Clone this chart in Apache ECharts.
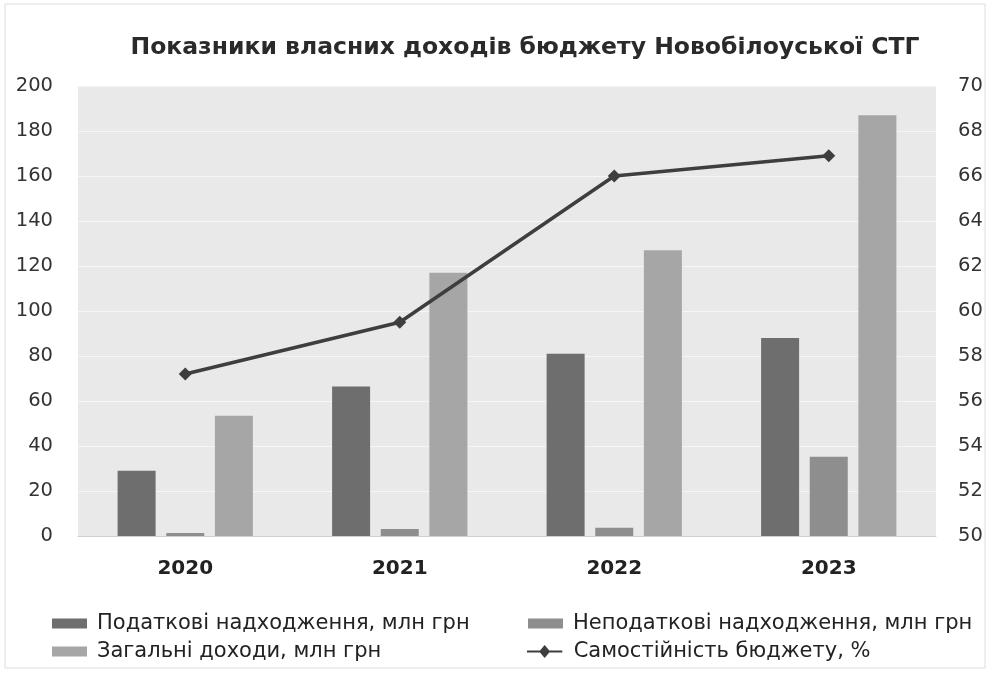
<!DOCTYPE html>
<html>
<head>
<meta charset="utf-8">
<script src="https://cdn.jsdelivr.net/npm/echarts@6/dist/echarts.min.js"></script>
<style>html,body{margin:0;padding:0;background:#fff}#c{width:991px;height:674px}</style>
</head>
<body>
<div id="c"></div>
<script>
const years = ['2020', '2021', '2022', '2023'];
const taxRevenue = [29, 66.5, 81, 88];
const nonTaxRevenue = [1.3, 3.1, 3.7, 35.2];
const totalRevenue = [53.5, 117, 127, 187];
const budgetIndependence = [57.2, 59.5, 66.0, 66.9];
const leftTicks = [0, 200, 20];
const rightTicks = [50, 70, 2];
const names = ['Податкові надходження, млн грн', 'Неподаткові надходження, млн грн', 'Загальні доходи, млн грн', 'Самостійність бюджету, %'];

const chart = echarts.init(document.getElementById('c'), null, {renderer: 'canvas'});
const font = 'DejaVu Sans';
const legendText = {fontFamily: font, fontSize: 21, color: '#222', padding: [0, 0, 0, 5]};
chart.setOption({
  animation: false,
  backgroundColor: '#fff',
  title: {
    text: 'Показники власних доходів бюджету Новобілоуської СТГ',
    left: 520, top: 31, textAlign: 'center',
    textStyle: {fontFamily: font, fontSize: 23.5, fontWeight: 'bold', color: '#2a2a2a'}
  },
  graphic: [{type: 'rect', shape: {x: 5, y: 4, width: 980, height: 664}, style: {fill: null, stroke: '#ddd', lineWidth: 1}, silent: true}],
  legend: [
    {data: [{name: names[0], icon: 'rect'}], left: 47, top: 608, itemWidth: 35, itemHeight: 10, textStyle: legendText},
    {data: [{name: names[1], icon: 'rect'}], left: 523, top: 608, itemWidth: 35, itemHeight: 10, textStyle: legendText},
    {data: [{name: names[2], icon: 'rect'}], left: 47, top: 636, itemWidth: 35, itemHeight: 10, textStyle: legendText},
    {data: [{name: names[3], icon: 'path://M0,7 L14,7 L19,1 L24,7 L38,7 L38,9 L24,9 L19,15 L14,9 L0,9 Z'}], left: 522, top: 636, itemWidth: 38, itemHeight: 13, textStyle: legendText}
  ],
  grid: {left: 78, right: 55, top: 86, bottom: 138, show: true, backgroundColor: '#e9e9e9', borderWidth: 0},
  xAxis: {
    type: 'category', data: years,
    axisLine: {show: true, lineStyle: {color: '#d0d0d0'}}, axisTick: {show: false},
    axisLabel: {fontFamily: font, fontSize: 20, fontWeight: 'bold', color: '#222', margin: 23}
  },
  yAxis: [
    {type: 'value', min: leftTicks[0], max: leftTicks[1], interval: leftTicks[2],
     axisLabel: {fontFamily: font, fontSize: 19.5, color: '#333', margin: 25},
     splitLine: {lineStyle: {color: '#f6f6f6', width: 1}}, axisLine: {show: false}, axisTick: {show: false}},
    {type: 'value', min: rightTicks[0], max: rightTicks[1], interval: rightTicks[2], position: 'right',
     axisLabel: {fontFamily: font, fontSize: 19.5, color: '#333', margin: 22},
     splitLine: {show: false}, axisLine: {show: false}, axisTick: {show: false}}
  ],
  series: [
    {name: names[0], type: 'bar', data: taxRevenue, barWidth: 38, barGap: '28%', itemStyle: {color: '#6e6e6e'}},
    {name: names[1], type: 'bar', data: nonTaxRevenue, barWidth: 38, barGap: '28%', itemStyle: {color: '#8e8e8e'}},
    {name: names[2], type: 'bar', data: totalRevenue, barWidth: 38, barGap: '28%', itemStyle: {color: '#a6a6a6'}},
    {name: names[3], type: 'line', yAxisIndex: 1, data: budgetIndependence, symbol: 'diamond', symbolSize: 13,
     lineStyle: {color: '#3e3e3e', width: 3.5}, itemStyle: {color: '#3e3e3e'}, z: 5}
  ]
});
</script>
</body>
</html>
